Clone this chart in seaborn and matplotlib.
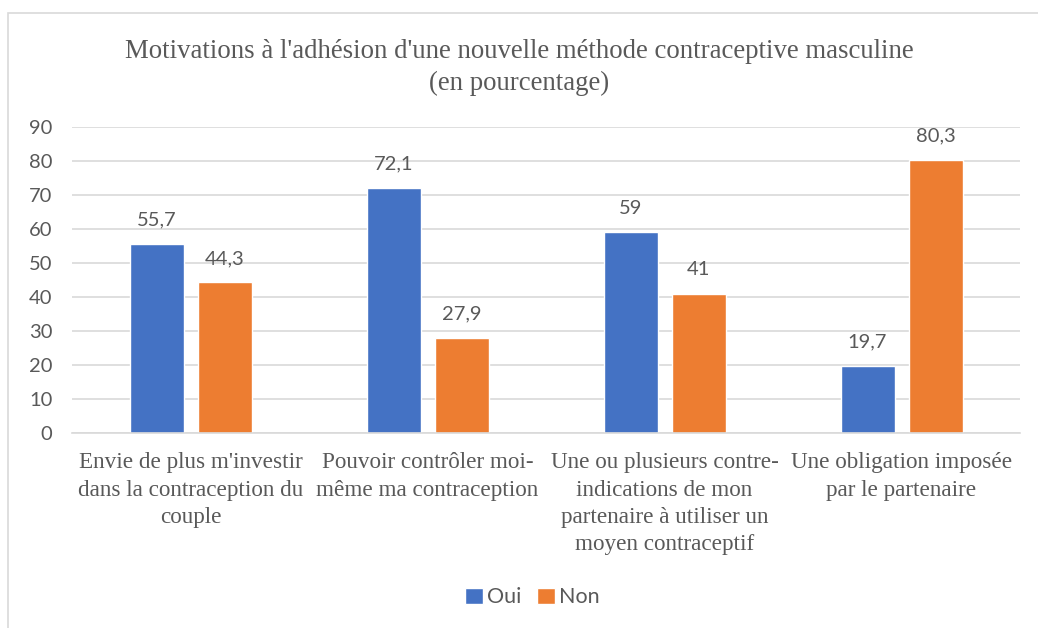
import pandas as pd
import matplotlib.pyplot as plt
import seaborn as sns
from matplotlib.patches import Rectangle

# ── DATA ───────────────────────────────────────────────
categories = [
    "Envie de plus m'investir\ndans la contraception du\ncouple",
    "Pouvoir contrôler moi-\nmême ma contraception",
    "Une ou plusieurs contre-\nindications de mon\npartenaire à utiliser un\nmoyen contraceptif",
    "Une obligation imposée\npar le partenaire",
]
oui = [55.7, 72.1, 59.0, 19.7]
non = [44.3, 27.9, 41.0, 80.3]
series = ["Oui", "Non"]
colors = ["#4472C4", "#ED7D31"]
title = "Motivations à l'adhésion d'une nouvelle méthode contraceptive masculine\n(en pourcentage)"

df = pd.DataFrame({
    "cat": categories * 2,
    "serie": ["Oui"] * 4 + ["Non"] * 4,
    "val": oui + non,
})

# ── PLOT ───────────────────────────────────────────────
sns.set_theme(style="white")
serif = ["Liberation Serif", "DejaVu Serif"]
sans = ["Lato", "DejaVu Sans"]
grey = "#595959"

fig = plt.figure(figsize=(10.38, 6.28), dpi=100)
ax = fig.add_axes([0.0694, 0.3105, 0.9133, 0.4873])

sns.barplot(data=df, x="cat", y="val", hue="serie", order=categories,
            hue_order=series, palette=colors, width=0.574, gap=0.206,
            saturation=1, ax=ax)

ax.set_ylim(0, 90)
ax.set_yticks(range(0, 91, 10))
ax.yaxis.grid(True, color="#D9D9D9", linewidth=1.2)
ax.set_axisbelow(True)
for s in ["top", "right", "left"]:
    ax.spines[s].set_visible(False)
ax.spines["bottom"].set_color("#D9D9D9")
ax.spines["bottom"].set_linewidth(1.2)
ax.tick_params(axis="both", length=0)
ax.tick_params(axis="y", pad=14, labelsize=14.5, labelcolor=grey)
ax.tick_params(axis="x", pad=14, labelsize=16.7, labelcolor=grey)
for t in ax.get_yticklabels():
    t.set_family(sans)
for t in ax.get_xticklabels():
    t.set_family(serif)
    t.set_linespacing(1.39)
ax.set_xlabel("")
ax.set_ylabel("")

for cont in ax.containers:
    labs = [f"{b.get_height():g}".replace(".", ",") for b in cont]
    ax.bar_label(cont, labels=labs, padding=11, fontsize=14.5, color=grey,
                 family=sans)

handles, labels = ax.get_legend_handles_labels()
ax.legend(handles, labels, loc="center", bbox_to_anchor=(0.513, 0.049),
          bbox_transform=fig.transFigure, ncol=2, frameon=False,
          handlelength=0.8, handleheight=0.8, handletextpad=0.2,
          columnspacing=0.75, prop={"family": sans, "size": 15.5},
          labelcolor=grey)

fig.text(0.5, 0.893, title, ha="center", va="center", fontsize=19.3,
         color=grey, family=serif, linespacing=1.37)

fig.patches.append(Rectangle((8 / 1038, -0.1), 1.2, 1 - 13 / 628 + 0.1,
                             transform=fig.transFigure, fill=False,
                             edgecolor="#D9D9D9", linewidth=1.2))

fig.savefig("out.png", dpi=100)
